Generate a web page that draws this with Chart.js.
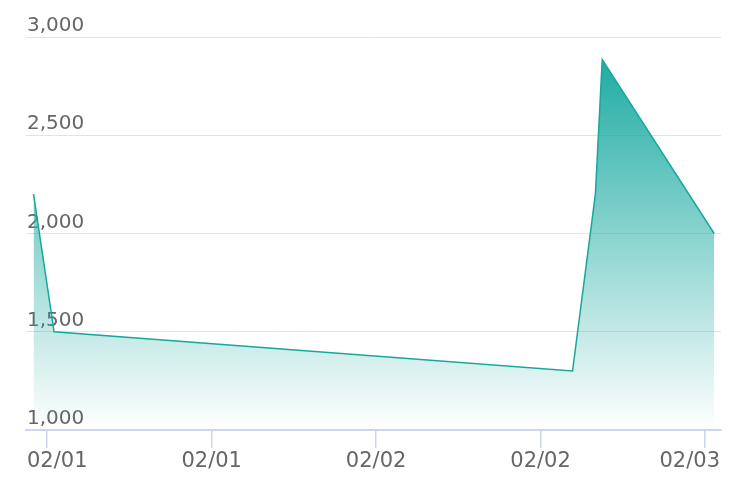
<!DOCTYPE html>
<html>
<head>
<meta charset="utf-8">
<script src="https://cdn.jsdelivr.net/npm/chart.js@4.4.1/dist/chart.umd.min.js"></script>
<style>
    html, body { margin: 0; padding: 0; background: #fff; }
    .chart-wrap { width: 744px; height: 494px; }
</style>
</head>
<body>
<div class="chart-wrap"><canvas id="areaChart"></canvas></div>
<script>
// Data
const times = ['2024-01-31T23:00', '2024-02-01T00:30', '2024-02-02T14:20', '2024-02-02T16:00', '2024-02-02T16:30', '2024-02-03T00:40'];
const values = [2200, 1500, 1300, 2200, 2885, 2000];
const xRange = ['2024-01-31T22:27', '2024-02-03T01:10'];
const xTickStart = '2024-02-01T00:00';
const yTicks = [1000, 1500, 2000, 2500, 3000];

const HOUR = 3600 * 1000;
const points = times.map((t, i) => ({ x: Date.parse(t), y: values[i] }));

function pad2(n) {
    return String(n).padStart(2, '0');
}

function dateLabel(value) {
    const d = new Date(value);
    return pad2(d.getMonth() + 1) + '/' + pad2(d.getDate());
}

function makeGradient(context) {
    const chart = context.chart;
    const area = chart.chartArea;
    if (!area) return 'rgba(32, 172, 163, 0.5)';
    const top = chart.scales.y.getPixelForValue(Math.max(...values));
    const g = chart.ctx.createLinearGradient(0, top, 0, area.bottom);
    g.addColorStop(0, 'rgba(32, 172, 163, 1)');
    g.addColorStop(1, 'rgba(32, 172, 163, 0)');
    return g;
}

// x labels are kept inside the plot width (first/last get pushed in)
const clampedXLabels = {
    id: 'clampedXLabels',
    afterDraw(chart) {
        const scale = chart.scales.x;
        const area = chart.chartArea;
        const c = chart.ctx;
        c.save();
        c.font = '21px "DejaVu Sans"';
        c.fillStyle = '#666666';
        c.textBaseline = 'alphabetic';
        c.textAlign = 'left';
        scale.ticks.forEach(tick => {
            const text = dateLabel(tick.value);
            const w = c.measureText(text).width;
            let left = scale.getPixelForValue(tick.value) - w / 2;
            left = Math.max(area.left + 1, Math.min(left, area.right - 1 - w));
            c.fillText(text, left, scale.top + 37);
        });
        c.restore();
    }
};

const ctx = document.getElementById('areaChart');

new Chart(ctx, {
    type: 'line',
    data: {
        datasets: [{
            data: points,
            borderColor: '#16a89d',
            borderWidth: 1.5,
            backgroundColor: makeGradient,
            fill: 'origin',
            pointRadius: 0,
            tension: 0
        }]
    },
    options: {
        responsive: true,
        maintainAspectRatio: false,
        animation: false,
        layout: {
            padding: { left: 26, right: 23, top: 37, bottom: 18 }
        },
        plugins: {
            legend: { display: false },
            tooltip: { enabled: false }
        },
        scales: {
            x: {
                type: 'linear',
                min: Date.parse(xRange[0]),
                max: Date.parse(xRange[1]),
                afterBuildTicks: function(axis) {
                    const ticks = [];
                    for (let v = Date.parse(xTickStart); v <= axis.max; v += 12 * HOUR) {
                        ticks.push({ value: v });
                    }
                    axis.ticks = ticks;
                },
                grid: {
                    drawOnChartArea: false,
                    drawTicks: true,
                    tickLength: 18,
                    color: '#ccd6eb',
                    lineWidth: 1.5
                },
                border: { color: '#ccd6eb', width: 2 },
                ticks: {
                    // labels drawn by clampedXLabels, this only reserves room
                    color: 'rgba(0,0,0,0)',
                    font: { family: 'DejaVu Sans', size: 20 },
                    padding: 2,
                    maxRotation: 0,
                    callback: dateLabel
                }
            },
            y: {
                min: 1000,
                max: 3000,
                afterBuildTicks: function(axis) {
                    axis.ticks = yTicks.map(v => ({ value: v }));
                },
                afterFit: function(axis) {
                    axis.width = 0;
                },
                grid: {
                    color: '#e3e3e3',
                    lineWidth: 1,
                    drawTicks: false
                },
                border: { display: false },
                ticks: {
                    mirror: true,
                    padding: 1,
                    labelOffset: -11,
                    color: '#666666',
                    font: { family: 'DejaVu Sans', size: 20 },
                    callback: function(value) {
                        return value.toLocaleString('en-US');
                    }
                }
            }
        }
    },
    plugins: [clampedXLabels]
});
</script>
</body>
</html>
